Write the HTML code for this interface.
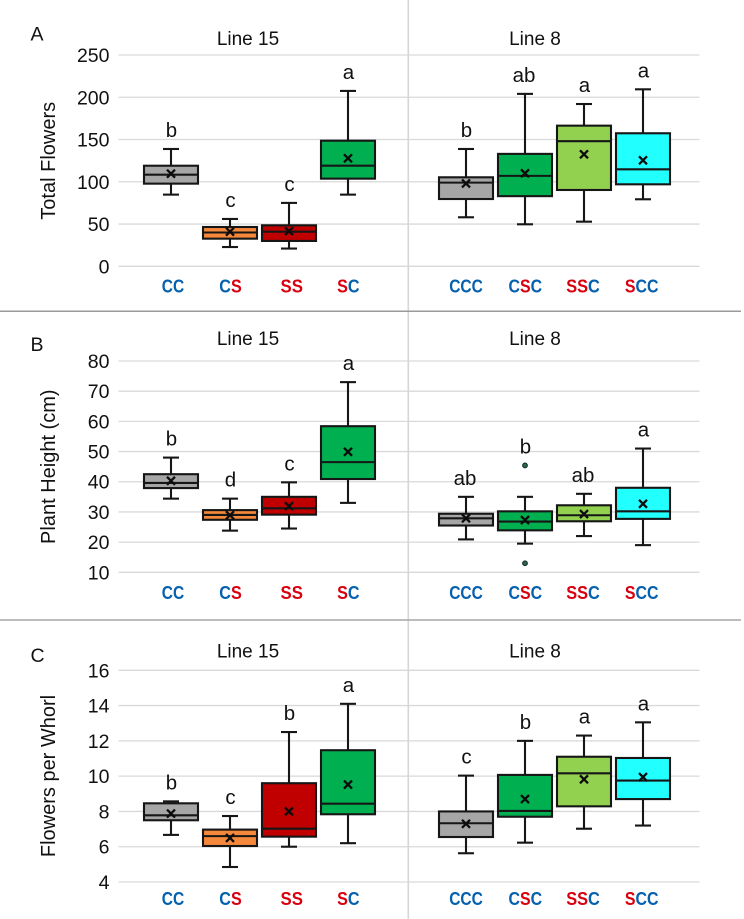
<!DOCTYPE html>
<html lang="en">
<head>
<meta charset="utf-8">
<title>Flower and height box plots</title>
<style>
html,body{margin:0;padding:0;background:#fff;}
#figure{display:block;width:744px;height:919px;filter:blur(0.35px);}
text{font-family:"Liberation Sans","DejaVu Sans",sans-serif;fill:#111;}
</style>
</head>
<body>
<svg id="figure" xmlns="http://www.w3.org/2000/svg" width="744" height="919" viewBox="0 0 744 919"></svg>
<script>
// Groups: indices 0-3 are Line 15, indices 4-7 are Line 8.
const categoriesLine15 = ['CC', 'CS', 'SS', 'SC'];
const categoriesLine8 = ['CCC', 'CSC', 'SSC', 'SCC'];

const totalFlowersTicks = [0, 50, 100, 150, 200, 250];
const totalFlowersLow = [84.8, 22.8, 21, 84.8, 58, 49.7, 52.8, 79.3];
const totalFlowersQ1 = [97.8, 32.7, 30, 103.7, 79.6, 83, 90.3, 97];
const totalFlowersMedian = [108.4, 40, 41, 119, 99, 107, 148, 114.8];
const totalFlowersQ3 = [119, 46.5, 48.5, 148.6, 105.3, 133, 166.4, 157.4];
const totalFlowersHigh = [138.8, 56, 75, 207.5, 138.8, 204, 192, 209.4];
const totalFlowersMean = [109.6, 41, 41.5, 127.7, 98, 110, 132.5, 125.4];
const totalFlowersLetters = ['b', 'c', 'c', 'a', 'b', 'ab', 'a', 'a'];
const totalFlowersOutliers = [];

const plantHeightTicks = [10, 20, 30, 40, 50, 60, 70, 80];
const plantHeightLow = [34.4, 23.8, 24.5, 33, 20.9, 19.5, 22, 19];
const plantHeightQ1 = [37.9, 27.4, 29.1, 40.9, 25.5, 23.9, 26.9, 27.7];
const plantHeightMedian = [39.6, 29, 31.2, 46.5, 27.9, 26.8, 28.9, 30.2];
const plantHeightQ3 = [42.5, 30.6, 35, 58.4, 29.4, 30.2, 32.2, 38];
const plantHeightHigh = [48, 34.4, 39.8, 73, 35, 35, 36, 51];
const plantHeightMean = [40.3, 28.9, 31.9, 49.9, 27.9, 27.3, 29.3, 32.7];
const plantHeightLetters = ['b', 'd', 'c', 'a', 'ab', 'b', 'ab', 'a'];
const plantHeightOutlierGroups = [5, 5];
const plantHeightOutliers = [45.4, 13];

const flowersPerWhorlTicks = [4, 6, 8, 10, 12, 14, 16];
const flowersPerWhorlLow = [6.67, 4.85, 6, 6.2, 5.63, 6.23, 7.02, 7.2];
const flowersPerWhorlQ1 = [7.5, 6.04, 6.57, 7.84, 6.55, 7.7, 8.29, 8.7];
const flowersPerWhorlMedian = [7.78, 6.6, 7.02, 8.44, 7.33, 8.03, 10.16, 9.75];
const flowersPerWhorlQ3 = [8.46, 6.97, 9.6, 11.47, 8, 10.07, 11.1, 11.03];
const flowersPerWhorlHigh = [8.57, 7.74, 12.5, 14.1, 10.03, 12, 12.3, 13.05];
const flowersPerWhorlMean = [7.88, 6.5, 8, 9.52, 7.3, 8.7, 9.82, 9.95];
const flowersPerWhorlLetters = ['b', 'c', 'b', 'a', 'c', 'b', 'a', 'a'];
const flowersPerWhorlOutliers = [];

const SVG_NS = 'http://www.w3.org/2000/svg';
const figure = document.getElementById('figure');
const groupFills = ['#a6a6a6', '#f5883a', '#c00000', '#00b050', '#a6a6a6', '#00b050', '#92d050', '#22ffff'];
const groupCenters = [171, 230, 289, 348, 466, 525, 584, 643];
const labelCenters = [173, 230.5, 291.7, 348.3, 466, 525.3, 583, 641.7];
const INK = '#161616';

function make(tag, attrs, parent) {
  const el = document.createElementNS(SVG_NS, tag);
  Object.keys(attrs).forEach(function (k) { el.setAttribute(k, attrs[k]); });
  parent.appendChild(el);
  return el;
}

function drawPanel(p) {
  const panel = make('g', {}, figure);
  
  

  const minV = p.ticks[0];
  const maxV = p.ticks[p.ticks.length - 1];
  const yScale = function (v) {
    return p.bottom - (v - minV) / (maxV - minV) * (p.bottom - p.top);
  };

  p.ticks.forEach(function (t) {
    const grid = make('line', { x1: 118.5, x2: 699.5, y1: yScale(t), y2: yScale(t), stroke: '#d9d9d9', 'stroke-width': 1.3 }, panel);
    
    
    const tick = make('text', { x: 109.5, y: yScale(t) + 7, 'text-anchor': 'end', 'font-size': 19.5 }, panel);
    tick.textContent = String(t);
    
    
  });

  const panelLetter = make('text', { x: 30.5, y: p.letterY, 'font-size': 19.5 }, panel);
  panelLetter.textContent = p.letter;
  
  

  const title15 = make('text', { x: 248, y: p.titleY, 'text-anchor': 'middle', 'font-size': 19 }, panel);
  title15.textContent = 'Line 15';
  
  

  const title8 = make('text', { x: 535, y: p.titleY, 'text-anchor': 'middle', 'font-size': 19 }, panel);
  title8.textContent = 'Line 8';
  
  

  const yTitle = make('text', { transform: 'translate(55 ' + p.yTitleCenter + ') rotate(-90)', 'text-anchor': 'middle', 'font-size': 20 }, panel);
  yTitle.textContent = p.yTitle;
  
  

  const categories = categoriesLine15.concat(categoriesLine8);
  categories.forEach(function (cat, i) {
    const label = make('text', { x: labelCenters[i], y: p.labelY, 'text-anchor': 'middle', 'font-size': 18, 'font-weight': 'bold', textLength: cat.length * 11.2, lengthAdjust: 'spacingAndGlyphs' }, panel);
    
    
    cat.split('').forEach(function (ch) {
      const span = make('tspan', {}, label);
      span.style.fill = ch === 'S' ? '#d9000f' : '#0560ae';
      span.textContent = ch;
    });

    const cx = groupCenters[i];
    const boxW = 54;
    const capW = 16;
    const yLow = yScale(p.low[i]);
    const yHigh = yScale(p.high[i]);
    const yQ1 = yScale(p.q1[i]);
    const yQ3 = yScale(p.q3[i]);
    const yMed = yScale(p.median[i]);
    const yMean = yScale(p.mean[i]);

    const g = make('g', { stroke: INK, 'stroke-width': 2.1, fill: 'none' }, panel);
    
    

    const whiskerUp = make('line', { x1: cx, x2: cx, y1: yHigh, y2: yQ3 }, g);
    
    
    const capUp = make('line', { x1: cx - capW / 2, x2: cx + capW / 2, y1: yHigh, y2: yHigh }, g);
    
    
    const whiskerDown = make('line', { x1: cx, x2: cx, y1: yQ1, y2: yLow }, g);
    
    
    const capDown = make('line', { x1: cx - capW / 2, x2: cx + capW / 2, y1: yLow, y2: yLow }, g);
    
    

    const rect = make('rect', { x: cx - boxW / 2, y: yQ3, width: boxW, height: yQ1 - yQ3, fill: groupFills[i] }, g);
    
    
    const median = make('line', { x1: cx - boxW / 2, x2: cx + boxW / 2, y1: yMed, y2: yMed }, g);
    
    
    const meanMark = make('path', { d: 'M' + (cx - 4) + ' ' + (yMean - 4) + 'L' + (cx + 4) + ' ' + (yMean + 4) + 'M' + (cx + 4) + ' ' + (yMean - 4) + 'L' + (cx - 4) + ' ' + (yMean + 4), 'stroke-width': 2.3, stroke: '#0c0c0c' }, g);
    
    

    let topValue = p.high[i];
    p.outliers.forEach(function (v, k) {
      if (p.outlierGroups[k] === i) {
        topValue = Math.max(topValue, v);
        const dot = make('circle', { cx: cx, cy: yScale(v), r: 2.3, fill: '#2f6b4a', stroke: '#16302a', 'stroke-width': 1.2 }, panel);
        
        
      }
    });

    const sig = make('text', { x: cx + (p.letters[i].length > 1 ? -1 : 0.5), y: yScale(topValue) - 12, 'text-anchor': 'middle', 'font-size': 20.5 }, panel);
    sig.textContent = p.letters[i];
    
    
  });
}

drawPanel({
  letter: 'A', letterY: 40.7, titleY: 45, top: 55, bottom: 266.3, labelY: 292.7,
  yTitle: 'Total Flowers', yTitleCenter: 160.8, ticks: totalFlowersTicks,
  low: totalFlowersLow, q1: totalFlowersQ1, median: totalFlowersMedian, q3: totalFlowersQ3,
  high: totalFlowersHigh, mean: totalFlowersMean, letters: totalFlowersLetters,
  outliers: totalFlowersOutliers, outlierGroups: []
});
drawPanel({
  letter: 'B', letterY: 351, titleY: 345, top: 361, bottom: 572.3, labelY: 599,
  yTitle: 'Plant Height (cm)', yTitleCenter: 466.7, ticks: plantHeightTicks,
  low: plantHeightLow, q1: plantHeightQ1, median: plantHeightMedian, q3: plantHeightQ3,
  high: plantHeightHigh, mean: plantHeightMean, letters: plantHeightLetters,
  outliers: plantHeightOutliers, outlierGroups: plantHeightOutlierGroups
});
drawPanel({
  letter: 'C', letterY: 662, titleY: 657.7, top: 670.3, bottom: 882, labelY: 905,
  yTitle: 'Flowers per Whorl', yTitleCenter: 776, ticks: flowersPerWhorlTicks,
  low: flowersPerWhorlLow, q1: flowersPerWhorlQ1, median: flowersPerWhorlMedian, q3: flowersPerWhorlQ3,
  high: flowersPerWhorlHigh, mean: flowersPerWhorlMean, letters: flowersPerWhorlLetters,
  outliers: flowersPerWhorlOutliers, outlierGroups: []
});

const columnDivider = make('line', { x1: 408.3, x2: 408.3, y1: 0, y2: 919, stroke: '#d6d6d6', 'stroke-width': 1.6 }, figure);


const rowDividerOne = make('line', { x1: 0, x2: 741, y1: 311.3, y2: 311.3, stroke: '#9a9a9a', 'stroke-width': 1.5 }, figure);


const rowDividerTwo = make('line', { x1: 0, x2: 741, y1: 620, y2: 620, stroke: '#a6a6a6', 'stroke-width': 1.5 }, figure);


</script>
</body>
</html>
